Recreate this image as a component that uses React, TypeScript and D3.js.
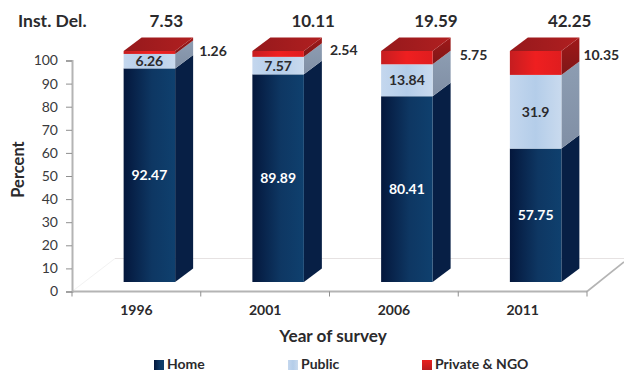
import React, { useEffect, useRef } from "react";
import * as d3 from "d3";

const years = ["1996", "2001", "2006", "2011"];
const home = [92.47, 89.89, 80.41, 57.75];
const publicSector = [6.26, 7.57, 13.84, 31.9];
const privateNgo = [1.26, 2.54, 5.75, 10.35];
const instDel = ["7.53", "10.11", "19.59", "42.25"];
const yTicks = [0, 10, 20, 30, 40, 50, 60, 70, 80, 90, 100];

// Hand placement of the labels that sit outside the columns
const instLabelShift = [17, 35, 29, 34];
const privateLabelShift = [6, 8, 9, 4];
const privateLabelY = [51, 50, 55, 55];

const W = 624;
const H = 371;
const FONT = "Lato, 'Open Sans', sans-serif";
const INK = "#2b2a2c";
const AXIS = "#b4b4b4";

// Oblique projection of the column depth
const DEPTH_X = 18;
const DEPTH_Y = -13.5;
const FLOOR_LIFT = 9.5;
const FLOOR_SHIFT = 13;

const y = d3.scaleLinear().domain([0, 100]).range([291.5, 60.5]);
const plane = d3.scaleBand().domain(years).range([72, 587]);
const x = d3
  .scaleBand()
  .domain(years)
  .range([72 + FLOOR_SHIFT, 587 + FLOOR_SHIFT])
  .paddingInner(0.6)
  .paddingOuter(0.3);
const frontY = (v: number) => y(v) - FLOOR_LIFT;

type Seg = { key: string; values: number[]; front: string; side: string; top: string };
const segments: Seg[] = [
  { key: "home", values: home, front: "url(#homeFront)", side: "#071f45", top: "#0b2a55" },
  { key: "public", values: publicSector, front: "url(#publicFront)", side: "url(#publicSide)", top: "#c5d6ea" },
  { key: "private", values: privateNgo, front: "url(#privateFront)", side: "url(#privateSide)", top: "url(#privateTop)" },
];

const legend = [
  { label: "Home", fill: "url(#homeFront)", sx: 154, tx: 167 },
  { label: "Public", fill: "url(#publicFront)", sx: 288, tx: 301 },
  { label: "Private & NGO", fill: "url(#privateLegend)", sx: 422, tx: 435 },
];

function Grad({ id, stops, vertical }: { id: string; stops: [number, string][]; vertical?: boolean }) {
  return (
    <linearGradient id={id} x1="0" y1="0" x2={vertical ? "0" : "1"} y2={vertical ? "1" : "0"}>
      {stops.map(([o, c]) => (
        <stop key={o} offset={o} stopColor={c} />
      ))}
    </linearGradient>
  );
}

export default function App() {
  const yAxisRef = useRef<SVGGElement>(null);
  const xAxisRef = useRef<SVGGElement>(null);

  useEffect(() => {
    const ya = d3.select(yAxisRef.current!);
    ya.call(d3.axisLeft(y).tickValues(yTicks).tickSize(6).tickPadding(8) as any);
    ya.select(".domain").attr("stroke", AXIS).attr("stroke-width", 2);
    ya.selectAll(".tick line").attr("stroke", "#8f8f8f").attr("stroke-width", 1);
    ya.selectAll(".tick text")
      .attr("fill", "#3a3a3c")
      .style("font-family", FONT)
      .style("font-size", "14px");

    const xa = d3.select(xAxisRef.current!);
    xa.call(d3.axisBottom(plane).tickSize(0).tickPadding(14) as any);
    xa.select(".domain").remove();
    xa.selectAll(".tick text")
      .attr("fill", INK)
      .style("font-family", FONT)
      .style("font-size", "14px")
      .style("font-weight", 700);
  }, []);

  const planeEdges = [72, ...years.map((yr) => plane(yr)! + plane.step())];

  return (
    <svg
      width={W}
      height={H}
      viewBox={`0 0 ${W} ${H}`}
      style={{ position: "absolute", left: 0, top: 0, background: "#fff" }}
    >
      <defs>
        <Grad id="homeFront" stops={[[0, "#04173c"], [0.55, "#0e3763"], [1, "#0f406e"]]} />
        <Grad id="publicFront" stops={[[0, "#c4d7ee"], [0.5, "#b4cde9"], [1, "#c9daee"]]} />
        <Grad id="publicSide" vertical stops={[[0, "#8d9db2"], [1, "#808fa5"]]} />
        <Grad id="privateFront" stops={[[0, "#c51d20"], [0.5, "#ef1f20"], [1, "#e01d1f"]]} />
        <Grad id="privateSide" vertical stops={[[0, "#a01818"], [1, "#7f1718"]]} />
        <Grad id="privateTop" stops={[[0, "#96191c"], [1, "#b01f20"]]} />
        <Grad id="privateLegend" vertical stops={[[0, "#e8201f"], [1, "#b81c1f"]]} />
      </defs>

      {/* floor of the 3D plot */}
      <g fill="none">
        <line x1={115} x2={W} y1={258.5} y2={258.5} stroke="#e6e2e2" strokeWidth={1} />
        <line x1={72} x2={115} y1={y(0)} y2={258.5} stroke="#f2f2f2" strokeWidth={1} />
        <line x1={587} x2={W} y1={y(0)} y2={262} stroke={AXIS} strokeWidth={1.6} />
      </g>

      {/* y axis and baseline */}
      <g ref={yAxisRef} transform="translate(72,0)" />
      <line x1={72} x2={587} y1={y(0)} y2={y(0)} stroke={AXIS} strokeWidth={2} />
      {planeEdges.map((e) => (
        <line key={e} x1={e} x2={e} y1={y(0)} y2={y(0) + 5} stroke="#8f8f8f" />
      ))}
      <g ref={xAxisRef} transform={`translate(0,${y(0)})`} />

      {/* stacked columns */}
      {years.map((yr, i) => {
        const x0 = x(yr)!;
        const x1 = x0 + x.bandwidth();
        let base = 0;
        const parts = segments.map((s) => {
          const v = s.values[i];
          const yb = frontY(base);
          const yt = frontY(base + v);
          base += v;
          return { ...s, v, yb, yt };
        });
        const last = parts[parts.length - 1];
        return (
          <g key={yr}>
            {parts.map((p) => (
              <g key={p.key}>
                <path
                  d={`M${x1},${p.yb}L${x1 + DEPTH_X},${p.yb + DEPTH_Y}L${x1 + DEPTH_X},${p.yt + DEPTH_Y}L${x1},${p.yt}Z`}
                  fill={p.side}
                />
                <rect x={x0} y={p.yt} width={x1 - x0} height={p.yb - p.yt} fill={p.front} />
              </g>
            ))}
            <path
              d={`M${x0},${last.yt}L${x0 + DEPTH_X},${last.yt + DEPTH_Y}L${x1 + DEPTH_X},${last.yt + DEPTH_Y}L${x1},${last.yt}Z`}
              fill={last.top}
            />
            {parts.slice(0, 2).map((p, j) => (
              <text
                key={p.key}
                x={(x0 + x1) / 2}
                y={(p.yb + p.yt) / 2}
                dy="0.35em"
                textAnchor="middle"
                fontFamily={FONT}
                fontWeight={700}
                fontSize={14}
                fill={j === 0 ? "#ffffff" : INK}
              >
                {p.v}
              </text>
            ))}
            <text
              x={x1 + DEPTH_X + privateLabelShift[i]}
              y={privateLabelY[i]}
              dy="0.35em"
              fontFamily={FONT}
              fontWeight={700}
              fontSize={14}
              fill={INK}
            >
              {privateNgo[i]}
            </text>
            <text
              x={(x0 + x1) / 2 + instLabelShift[i]}
              y={27}
              textAnchor="middle"
              fontFamily={FONT}
              fontWeight={700}
              fontSize={17}
              fill={INK}
            >
              {instDel[i]}
            </text>
          </g>
        );
      })}

      <text x={18} y={27} fontFamily={FONT} fontWeight={700} fontSize={17.5} fill={INK}>
        Inst. Del.
      </text>
      <text
        transform="translate(24,169.5) rotate(-90)"
        textAnchor="middle"
        fontFamily={FONT}
        fontWeight={700}
        fontSize={16.5}
        fill={INK}
      >
        Percent
      </text>
      <text x={333} y={342} textAnchor="middle" fontFamily={FONT} fontWeight={700} fontSize={17.2} fill={INK}>
        Year of survey
      </text>

      {legend.map((l) => (
        <g key={l.label}>
          <rect x={l.sx} y={360} width={10} height={10} fill={l.fill} />
          <text x={l.tx} y={369} fontFamily={FONT} fontWeight={700} fontSize={14} fill={INK}>
            {l.label}
          </text>
        </g>
      ))}
    </svg>
  );
}
